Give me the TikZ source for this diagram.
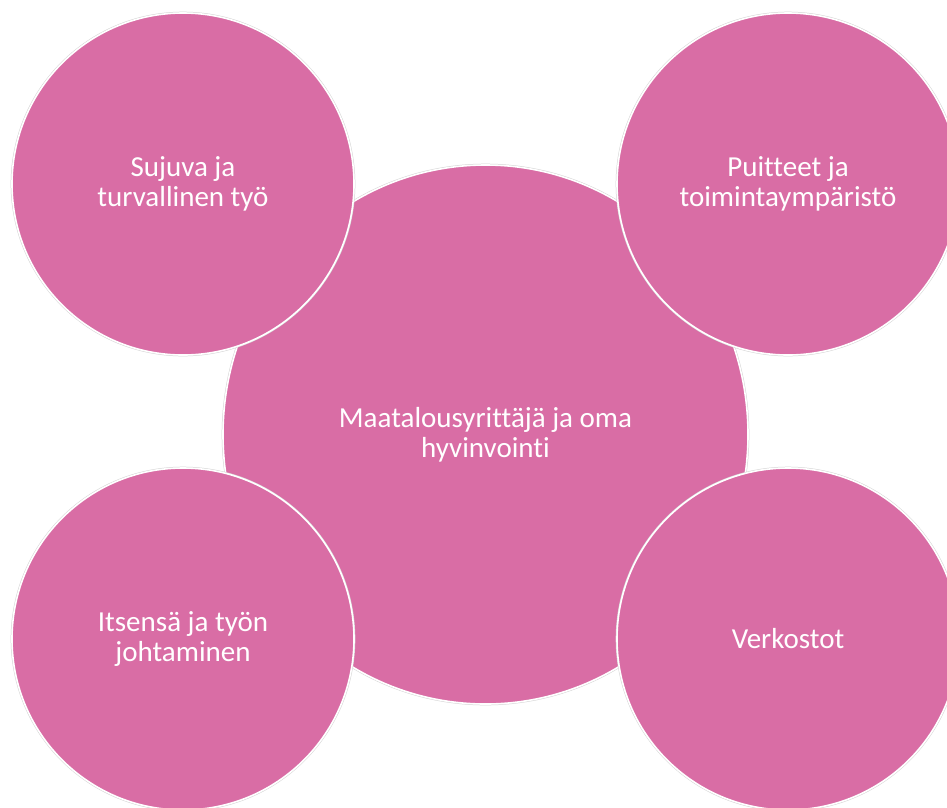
\documentclass[tikz,border=0pt]{standalone}
\usepackage{fontspec}
\setmainfont[Ligatures={NoCommon}]{Carlito}
\usetikzlibrary{shapes.geometric}
\definecolor{pinkfill}{HTML}{D96DA5}
\definecolor{halo}{HTML}{D4D4D4}
\tikzset{
  bubble/.style={circle, fill=pinkfill, draw=white, line width=1.6pt, minimum size=342pt, inner sep=0pt,
    text=white, align=center, font=\fontsize{29}{30}\selectfont},
  hub/.style={ellipse, fill=pinkfill, draw=white, line width=1.6pt, minimum width=525pt, minimum height=539pt, inner sep=0pt,
    text=white, align=center, font=\fontsize{29}{30}\selectfont},
  halostyle/.style={draw=halo, line width=2.6pt}
}
\begin{document}
\begin{tikzpicture}[x=1pt,y=-1pt]
\useasboundingbox (0,0) rectangle (947,807);
\clip (0,0) rectangle (947,807);
\fill[white] (0,0) rectangle (947,807);
% halos
\draw[halostyle] (485.5,434.5) ellipse [x radius=262.5, y radius=269.5];
\node[hub] (hub) at (485.5,434.5) {Maatalousyrittäjä ja oma\\hyvinvointi};
\draw[halostyle] (183,184) circle [radius=171];
\node[bubble] (tl) at (183,184) {Sujuva ja\\turvallinen työ};
\draw[halostyle] (788,184) circle [radius=171];
\node[bubble] (tr) at (788,184) {Puitteet ja\\toimintaympäristö};
\draw[halostyle] (183,639) circle [radius=171];
\node[bubble] (bl) at (183,639) {Itsensä ja työn\\johtaminen};
\draw[halostyle] (788,639) circle [radius=171];
\node[bubble] (br) at (788,639) {Verkostot};
\end{tikzpicture}
\end{document}
